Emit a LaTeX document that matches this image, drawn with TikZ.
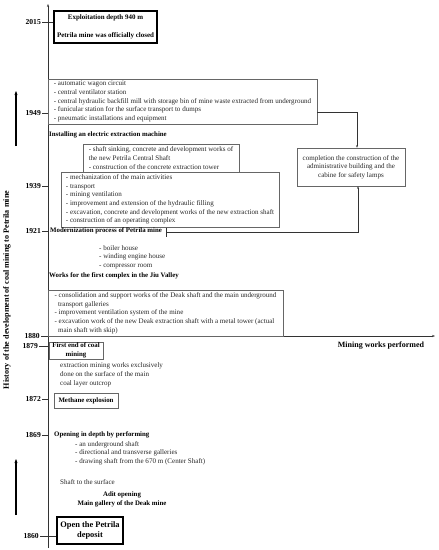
\documentclass[tikz,border=0pt]{standalone}
\usepackage{fontspec}
\setmainfont{Liberation Serif}
\usetikzlibrary{arrows.meta}
\newcommand{\listfont}{\fontsize{7.05}{8.7}\selectfont}
\newcommand{\headfont}{\fontsize{6.85}{8.7}\selectfont\bfseries}
\newcommand{\yearfont}{\fontsize{7.6}{9}\selectfont\bfseries}
\tikzstyle{year} = [anchor=east, inner sep=1pt, font=\yearfont]
\tikzstyle{listbox} = [rectangle, draw=black!60, line width=0.6pt, align=left, inner sep=0pt, font=\listfont, text=black!85]
\tikzstyle{keybox} = [rectangle, draw=black!60, line width=0.6pt, align=center, inner sep=0pt, font=\headfont]
\tikzstyle{bigbox} = [rectangle, draw=black, line width=1.3pt, align=center, inner sep=0pt, font=\headfont]
\tikzstyle{listtext} = [anchor=west, align=left, inner sep=0pt, font=\listfont, text=black!85]
\tikzstyle{headtext} = [anchor=west, align=left, inner sep=0pt, font=\headfont]
\tikzstyle{axis} = [black!80, line width=0.6pt, -{Stealth[length=3pt,width=2.2pt]}]
\tikzstyle{tick} = [black!80, line width=0.5pt]
\tikzstyle{conn} = [black!80, line width=0.5pt, -{Stealth[length=2.5pt,width=2pt]}]
\tikzstyle{timearrow} = [black, line width=1.1pt, -{Stealth[length=4pt,width=3pt]}]

\begin{document}
\begin{tikzpicture}[x=1pt, y=-1pt]
\useasboundingbox (0,0) rectangle (439,550);
% Axes: years upwards, works to the right
\coordinate (axbot) at (48,548);
\coordinate (axtop) at (48,4);
\coordinate (hstart) at (48,336);
\coordinate (hend) at (435,336);
\draw[axis] (axbot) -- (axtop);
\draw[axis] (hstart) -- (hend);
% Axis titles
\node[rotate=90, font=\fontsize{8.1}{9}\selectfont\bfseries] (histlabel) at (7,290) {History of the development of coal mining to Petrila mine};
\node[font=\fontsize{8}{9}\selectfont\bfseries] (workslabel) at (381,346) {Mining works performed};
% Time arrows on the far left
\coordinate (upA) at (16,146);
\coordinate (upB) at (16,91);
\coordinate (loA) at (16,515);
\coordinate (loB) at (16,459);
\draw[timearrow] (upA) -- (upB);
\draw[timearrow] (loA) -- (loB);
% Years
\node[year] (y2015) at (42,22) {2015};
\node[year] (y1949) at (42,113) {1949};
\node[year] (y1939) at (42,186) {1939};
\node[year] (y1921) at (42,231) {1921};
\node[year] (y1880) at (41,336) {1880};
\node[year] (y1879) at (39,346) {1879};
\node[year] (y1872) at (42,399) {1872};
\node[year] (y1869) at (42,435) {1869};
\node[year] (y1860) at (40,536) {1860};
% 2015
\node[bigbox, font=\fontsize{6.95}{8.7}\selectfont\bfseries, minimum width=103pt, minimum height=32pt] (box2015) at (105.5,27)
  {Exploitation depth 940 m\\[9.3pt]Petrila mine was officially closed};
\draw[tick] (y2015.east) -- (y2015.east -| box2015.west);
% 1949
\node[listbox, minimum width=269pt, minimum height=45pt] (box1949) at (182.5,101.5)
  {- automatic wagon circuit\\
   - central ventilator station\\
   - central hydraulic backfill mill with storage bin of mine waste extracted from underground\\
   - funicular station for the surface transport to dumps\\
   - pneumatic installations and equipment};
\draw[tick] (y1949.east) -- (y1949.east -| axbot);
\node[headtext] (install) at (49,135) {Installing an electric extraction machine};
\node[listbox, minimum width=156pt, minimum height=28pt] (shaft) at (161,158)
  {- shaft sinking, concrete and development works of\\
   the new Petrila Central Shaft\\
   - construction of the concrete extraction tower};
% 1939
\node[listbox, fill=white, minimum width=218pt, minimum height=55pt] (box1939) at (170,199.5)
  {- mechanization of the main activities\\
   - transport\\
   - mining ventilation\\
   - improvement and extension of the hydraulic filling\\
   - excavation, concrete and development works of the new extraction shaft\\
   - construction of an operating complex};
\draw[tick] (y1939.east) -- (y1939.east -| axbot);
% Administrative building
\node[keybox, font=\listfont, text=black!85, minimum width=108pt, minimum height=38pt] (done) at (351,167)
  {completion the construction of the\\administrative building and the\\cabine for safety lamps};
\draw[conn] ([yshift=-10.5pt]box1949.east) -| ([xshift=6pt]done.north);
% 1921
\draw[tick] (y1921.east) -- (y1921.east -| axbot);
\node[headtext] (modern) at (50,231) {Modernization process of Petrila mine};
\coordinate (mstart) at ([xshift=4pt,yshift=-1pt]modern.east);
\draw[tick] (mstart) ++(0,-4.5) -- ++(0,9);
\draw[conn] (mstart) -| ([xshift=7pt]done.south);
\node[listtext] (boiler) at (99,257) {- boiler house\\- winding engine house\\- compressor room};
\node[headtext] (jiu) at (49,276) {Works for the first complex in the Jiu Valley};
% 1880
\node[listbox, minimum width=235pt, minimum height=46pt] (box1880) at (165.5,313)
  {- consolidation and support works of the Deak shaft and the main underground\\
   \hspace*{0.5em}transport galleries\\
   - improvement ventilation system of the mine\\
   - excavation work of the new Deak extraction shaft with a metal tower (actual\\
   \hspace*{0.5em}main shaft with skip)};
\draw[tick] (y1880.east) -- (hstart);
% 1879
\node[keybox, minimum width=54pt, minimum height=17pt] (box1879) at (76,350.5) {First end of coal\\mining};
\draw[tick] (y1879.east) -- (y1879.east -| box1879.west);
\node[listtext] (outcrop) at (60,375) {extraction mining works exclusively\\done on the surface of the main\\coal layer outcrop};
% 1872
\node[keybox, minimum width=64pt, minimum height=15pt] (box1872) at (86,400.5) {Methane explosion};
\draw[tick] (y1872.east) -- (y1872.east -| axbot);
% 1869
\draw[tick] (y1869.east) -- (y1869.east -| axbot);
\node[headtext] (opening) at (54,435) {Opening in depth by performing};
\node[listtext] (depth) at (75,453) {- an underground shaft\\- directional and transverse galleries\\- drawing shaft from the 670 m (Center Shaft)};
\node[listtext] (surface) at (60,482) {Shaft to the surface};
\node[align=center, inner sep=0pt, font=\headfont] (adit) at (122,499.5) {Adit opening\\Main gallery of the Deak mine};
% 1860
\node[bigbox, font=\fontsize{8.4}{10}\selectfont\bfseries, minimum width=66pt, minimum height=27pt] (box1860) at (90,530.5) {Open the Petrila\\deposit};
\draw[tick] (y1860.east) -- (y1860.east -| box1860.west);
\end{tikzpicture}
\end{document}
